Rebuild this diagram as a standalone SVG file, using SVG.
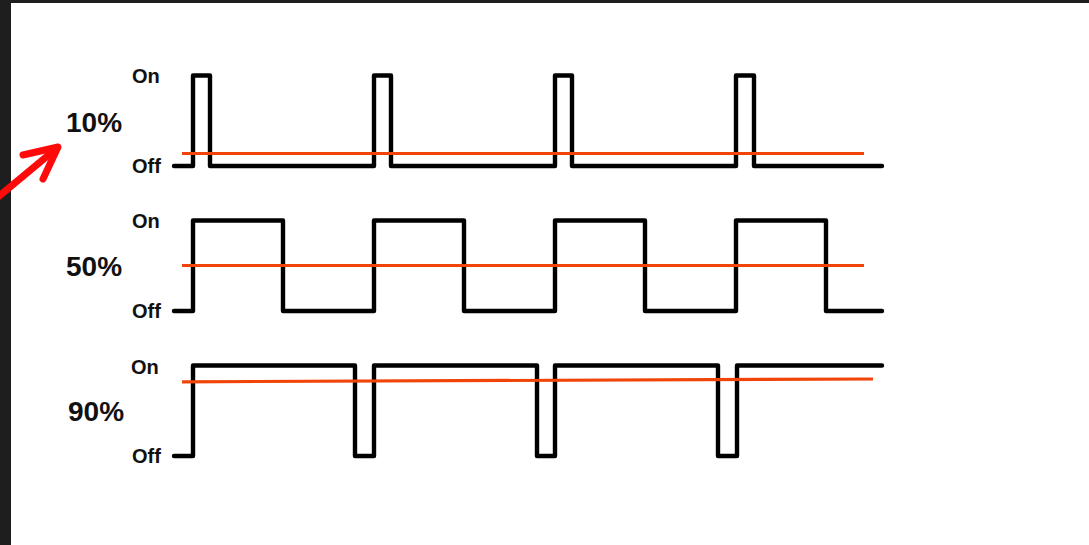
<svg xmlns="http://www.w3.org/2000/svg" width="1089" height="545" viewBox="0 0 1089 545">
<style>
.bg{fill:#ffffff}
.frame{fill:#1f1e1e}
.wave{fill:none;stroke:#000;stroke-width:4.4;stroke-linejoin:round;stroke-linecap:round}
.avg{fill:none;stroke:#f04408;stroke-width:3.2}
.lvl{font-family:"Liberation Sans",Arial,sans-serif;font-weight:bold;font-size:20px;fill:#111}
.pct{font-family:"Liberation Sans",Arial,sans-serif;font-weight:bold;font-size:28px;fill:#111}
.arrow{fill:none;stroke:#ff0a0a;stroke-width:7;stroke-linecap:round;stroke-linejoin:round}
</style>
<rect class="bg" x="0" y="0" width="1089" height="545"/>
<rect class="frame" x="0" y="0" width="1089" height="3"/>
<rect class="frame" x="0" y="0" width="11" height="545"/>

<g id="row10">
<text class="pct" x="66" y="132">10%</text>
<text class="lvl" x="132" y="83">On</text>
<text class="lvl" x="132" y="173">Off</text>
<path class="wave" d="M174 166 H193 V75.5 H210 V166 H374 V75.5 H391 V166 H555 V75.5 H572 V166 H736 V75.5 H754 V166 H882"/>
<line class="avg" x1="182" y1="153.5" x2="864" y2="153.5"/>
</g>

<g id="row50">
<text class="pct" x="66" y="276">50%</text>
<text class="lvl" x="132" y="228">On</text>
<text class="lvl" x="132" y="318">Off</text>
<path class="wave" d="M174 311 H193 V220.5 H283 V311 H374 V220.5 H464 V311 H555 V220.5 H645 V311 H736 V220.5 H826 V311 H882"/>
<line class="avg" x1="182" y1="265.5" x2="864" y2="265.5"/>
</g>

<g id="row90">
<text class="pct" x="68" y="421">90%</text>
<text class="lvl" x="131" y="374">On</text>
<text class="lvl" x="132" y="463">Off</text>
<path class="wave" d="M174 456 H193 V365.5 H355 V456 H374 V365.5 H537 V456 H555 V365.5 H718 V456 H737 V365.5 H882"/>
<line class="avg" x1="182" y1="381.8" x2="873" y2="379"/>
</g>

<g id="connectors">
<line class="arrow" x1="-2" y1="197" x2="57" y2="148"/>
<polyline class="arrow" points="23,155 58,147 43,179"/>
</g>
</svg>
